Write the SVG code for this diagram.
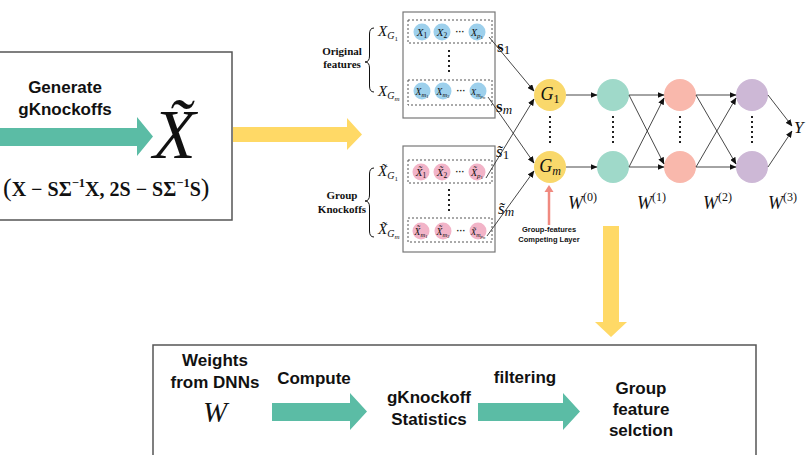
<svg xmlns="http://www.w3.org/2000/svg" width="808" height="455" viewBox="0 0 808 455">
<style>
.bs{font-family:"Liberation Sans",Arial,sans-serif;font-weight:bold;fill:#111}
.se{font-family:"Liberation Serif","Times New Roman",serif;fill:#111}
.it{font-family:"Liberation Serif","Times New Roman",serif;font-style:italic;fill:#111}
.bse{font-family:"Liberation Serif","Times New Roman",serif;font-weight:bold;fill:#111}
.frame{fill:#fff;stroke:#555;stroke-width:1.5}
.gbox{fill:#fff;stroke:#777;stroke-width:1.2}
.dash{fill:none;stroke:#555;stroke-width:1;stroke-dasharray:2 2}
.vdots{stroke:#222;stroke-width:2;stroke-dasharray:2 3}
.blue{fill:#9dd0ec}
.pink{fill:#f2b4c8}
.edge{stroke:#333;stroke-width:0.9;fill:none;marker-end:url(#ah)}
.brace{fill:none;stroke:#111;stroke-width:1}
</style>
<defs>
<marker id="ah" markerWidth="7" markerHeight="6" refX="6.5" refY="3" orient="auto" markerUnits="userSpaceOnUse">
<path d="M0,0 L7,3 L0,6 Z" fill="#111"/>
</marker>
</defs>

<!-- Left box: generate knockoffs -->
<g id="gen-box">
<rect x="-5" y="52" width="237" height="168" class="frame"/>
<text x="65" y="93" class="bs" font-size="17" text-anchor="middle">Generate</text>
<text x="65" y="115" class="bs" font-size="17" text-anchor="middle">gKnockoffs</text>
<path d="M-2,128 L137,128 L137,117 L153,136.5 L137,156 L137,146 L-2,146 Z" fill="#5bbca5"/>
<text x="153" y="158" class="it" font-size="70">X̃</text>
<text x="3" y="196" class="bse" font-size="20"><tspan font-size="26" font-weight="normal">(</tspan>X − SΣ<tspan font-size="12.5" dy="-9">−1</tspan><tspan dy="9">X, 2S − SΣ</tspan><tspan font-size="12.5" dy="-9">−1</tspan><tspan dy="9">S</tspan><tspan font-size="26" font-weight="normal">)</tspan></text>
</g>

<!-- yellow arrows -->
<g id="yellow-arrows">
<path d="M233,127 L347,127 L347,118 L362,134.5 L347,150 L347,142 L233,142 Z" fill="#ffd966"/>
<path d="M603,226 L619,226 L619,322 L627,322 L611,337 L595,322 L603,322 Z" fill="#ffd966"/>
</g>

<!-- Original features -->
<g id="original-features">
<rect x="403" y="12" width="92" height="106" class="gbox"/>
<rect x="408" y="20" width="84" height="23" class="dash"/>
<rect x="408" y="80" width="84" height="25" class="dash"/>
<circle cx="422" cy="32" r="8.5" class="blue"/>
<circle cx="442" cy="32" r="8.5" class="blue"/>
<circle cx="477" cy="32" r="8.5" class="blue"/>
<circle cx="422" cy="91" r="8.5" class="blue"/>
<circle cx="443" cy="91" r="8.5" class="blue"/>
<circle cx="478" cy="91" r="8.5" class="blue"/>
<text x="422" y="35.5" class="it" font-size="11" text-anchor="middle">X<tspan font-size="7.5" font-style="normal" dy="2">1</tspan></text>
<text x="442" y="35.5" class="it" font-size="11" text-anchor="middle">X<tspan font-size="7.5" font-style="normal" dy="2">2</tspan></text>
<text x="460" y="35" class="bs" font-size="9" text-anchor="middle">···</text>
<text x="477" y="35.5" class="it" font-size="10" text-anchor="middle">X<tspan font-size="7" dy="2">p</tspan><tspan font-size="5" font-style="normal" dy="1">1</tspan></text>
<text x="422" y="94.5" class="it" font-size="9.5" text-anchor="middle">X<tspan font-size="6.5" dy="2">m</tspan><tspan font-size="4.5" font-style="normal" dy="1">1</tspan></text>
<text x="443" y="94.5" class="it" font-size="9.5" text-anchor="middle">X<tspan font-size="6.5" dy="2">m</tspan><tspan font-size="4.5" font-style="normal" dy="1">2</tspan></text>
<text x="461" y="94" class="bs" font-size="9" text-anchor="middle">···</text>
<text x="478" y="94.5" class="it" font-size="9" text-anchor="middle">X<tspan font-size="6" dy="2">m</tspan><tspan font-size="4.5" dy="1">p</tspan><tspan font-size="3.5" dy="1">m</tspan></text>
<line x1="449" y1="50" x2="449" y2="73" class="vdots"/>
<text x="378" y="36" class="it" font-size="15">X<tspan font-size="10" dy="3">G</tspan><tspan font-size="7" font-style="normal" dy="2">1</tspan></text>
<text x="378" y="96" class="it" font-size="15">X<tspan font-size="10" dy="3">G</tspan><tspan font-size="7" dy="2">m</tspan></text>
<path d="M374,28 Q369.5,28 369.5,34 L369.5,56 Q369.5,62 365,62 Q369.5,62 369.5,68 L369.5,86 Q369.5,92 374,92" class="brace"/>
<text x="342" y="55" class="bse" font-size="11" text-anchor="middle">Original</text>
<text x="342" y="68" class="bse" font-size="11" text-anchor="middle">features</text>
</g>

<!-- Group knockoffs -->
<g id="group-knockoffs">
<rect x="403" y="146" width="92" height="106" class="gbox"/>
<rect x="408" y="160" width="84" height="23" class="dash"/>
<rect x="408" y="218" width="84" height="24" class="dash"/>
<circle cx="421" cy="172" r="8.5" class="pink"/>
<circle cx="442" cy="172" r="8.5" class="pink"/>
<circle cx="477" cy="172" r="8.5" class="pink"/>
<circle cx="421" cy="231" r="8.5" class="pink"/>
<circle cx="443" cy="231" r="8.5" class="pink"/>
<circle cx="478" cy="231" r="8.5" class="pink"/>
<text x="421" y="175.5" class="it" font-size="11" text-anchor="middle">X̃<tspan font-size="7.5" font-style="normal" dy="2">1</tspan></text>
<text x="442" y="175.5" class="it" font-size="11" text-anchor="middle">X̃<tspan font-size="7.5" font-style="normal" dy="2">2</tspan></text>
<text x="460" y="175" class="bs" font-size="9" text-anchor="middle">···</text>
<text x="477" y="175.5" class="it" font-size="10" text-anchor="middle">X̃<tspan font-size="7" dy="2">p</tspan><tspan font-size="5" font-style="normal" dy="1">1</tspan></text>
<text x="421" y="234.5" class="it" font-size="9.5" text-anchor="middle">X̃<tspan font-size="6.5" dy="2">m</tspan><tspan font-size="4.5" font-style="normal" dy="1">1</tspan></text>
<text x="443" y="234.5" class="it" font-size="9.5" text-anchor="middle">X̃<tspan font-size="6.5" dy="2">m</tspan><tspan font-size="4.5" font-style="normal" dy="1">2</tspan></text>
<text x="461" y="234" class="bs" font-size="9" text-anchor="middle">···</text>
<text x="478" y="234.5" class="it" font-size="9" text-anchor="middle">X̃<tspan font-size="6" dy="2">m</tspan><tspan font-size="4.5" dy="1">p</tspan><tspan font-size="3.5" dy="1">m</tspan></text>
<line x1="449" y1="189" x2="449" y2="212" class="vdots"/>
<text x="378" y="176" class="it" font-size="15">X̃<tspan font-size="10" dy="3">G</tspan><tspan font-size="7" font-style="normal" dy="2">1</tspan></text>
<text x="378" y="234" class="it" font-size="15">X̃<tspan font-size="10" dy="3">G</tspan><tspan font-size="7" dy="2">m</tspan></text>
<path d="M374,168 Q369.5,168 369.5,174 L369.5,195 Q369.5,201 365,201 Q369.5,201 369.5,207 L369.5,231 Q369.5,237 374,237" class="brace"/>
<text x="342" y="199" class="bse" font-size="11" text-anchor="middle">Group</text>
<text x="342" y="213" class="bse" font-size="11" text-anchor="middle">Knockoffs</text>
</g>

<!-- network nodes -->
<g id="node-G1"><circle cx="550" cy="95" r="16" fill="#f9d86b"/><text x="550" y="100" class="it" font-size="18" text-anchor="middle">G<tspan font-size="12" font-style="normal" dy="3">1</tspan></text></g>
<g id="node-Gm"><circle cx="550" cy="167" r="16" fill="#f9d86b"/><text x="550" y="172" class="it" font-size="18" text-anchor="middle">G<tspan font-size="12" dy="3">m</tspan></text></g>
<g id="node-h1a"><circle cx="613" cy="95" r="16" fill="#9fd9c9"/></g>
<g id="node-h1b"><circle cx="613" cy="167" r="16" fill="#9fd9c9"/></g>
<g id="node-h2a"><circle cx="680" cy="95" r="16" fill="#f9b8ac"/></g>
<g id="node-h2b"><circle cx="680" cy="167" r="16" fill="#f9b8ac"/></g>
<g id="node-h3a"><circle cx="752" cy="95" r="16" fill="#cdb8d6"/></g>
<g id="node-h3b"><circle cx="752" cy="167" r="16" fill="#cdb8d6"/></g>
<g id="node-Y"><text x="794" y="133" class="it" font-size="17">Y</text></g>
<g id="column-dots">
<line x1="550" y1="116" x2="550" y2="144" class="vdots"/>
<line x1="613" y1="116" x2="613" y2="144" class="vdots"/>
<line x1="680" y1="116" x2="680" y2="144" class="vdots"/>
<line x1="752" y1="116" x2="752" y2="144" class="vdots"/>
</g>

<!-- connectors -->
<g id="connectors">
<line x1="489" y1="37" x2="534" y2="91" class="edge"/>
<line x1="486" y1="178" x2="534" y2="99" class="edge"/>
<line x1="488" y1="97" x2="534" y2="163" class="edge"/>
<line x1="487" y1="236" x2="534" y2="171" class="edge"/>
<line x1="566" y1="95" x2="597" y2="95" class="edge"/>
<line x1="566" y1="167" x2="597" y2="167" class="edge"/>
<line x1="629" y1="95" x2="664" y2="95" class="edge"/>
<line x1="629" y1="95" x2="664" y2="164" class="edge"/>
<line x1="629" y1="167" x2="664" y2="98" class="edge"/>
<line x1="629" y1="167" x2="664" y2="167" class="edge"/>
<line x1="696" y1="95" x2="736" y2="95" class="edge"/>
<line x1="696" y1="95" x2="736" y2="164" class="edge"/>
<line x1="696" y1="167" x2="736" y2="98" class="edge"/>
<line x1="696" y1="167" x2="736" y2="167" class="edge"/>
<line x1="768" y1="95" x2="792" y2="126" class="edge"/>
<line x1="768" y1="167" x2="792" y2="131" class="edge"/>
<text x="497" y="52" class="bse" font-size="17">s<tspan class="se" font-weight="normal" font-size="13" dy="2">1</tspan></text>
<text x="496" y="112" class="bse" font-size="17">s<tspan font-style="italic" font-weight="normal" font-size="13" dy="2">m</tspan></text>
<text x="496" y="157" class="it" font-size="17">s̃<tspan font-style="normal" font-size="13" dy="2">1</tspan></text>
<text x="498" y="214" class="it" font-size="17">s̃<tspan font-size="13" dy="2">m</tspan></text>
</g>

<!-- weight labels -->
<g id="weight-labels">
<text x="568" y="209" class="it" font-size="18">W<tspan font-style="normal" font-size="12" dy="-8">(0)</tspan></text>
<text x="637" y="209" class="it" font-size="18">W<tspan font-style="normal" font-size="12" dy="-8">(1)</tspan></text>
<text x="703" y="209" class="it" font-size="18">W<tspan font-style="normal" font-size="12" dy="-8">(2)</tspan></text>
<text x="768" y="209" class="it" font-size="18">W<tspan font-style="normal" font-size="12" dy="-8">(3)</tspan></text>
</g>

<!-- competing layer annotation -->
<g id="competing-layer">
<line x1="549" y1="225" x2="549" y2="191" stroke="#f08a80" stroke-width="2.5"/>
<path d="M544.5,192 L549,185 L553.5,192 Z" fill="#f08a80"/>
<text x="549" y="232" class="bs" font-size="7.5" text-anchor="middle">Group-features</text>
<text x="549" y="242" class="bs" font-size="7.5" text-anchor="middle">Competing Layer</text>
</g>

<!-- bottom box -->
<g id="selection-box">
<rect x="153" y="345" width="603" height="120" class="frame"/>
<text x="215" y="366" class="bs" font-size="17" text-anchor="middle">Weights</text>
<text x="215" y="388" class="bs" font-size="17" text-anchor="middle">from DNNs</text>
<text x="215" y="422" class="it" font-size="29" text-anchor="middle">W</text>
<text x="314" y="384" class="bs" font-size="17" text-anchor="middle">Compute</text>
<path d="M272,403 L350,403 L350,393 L367,411.5 L350,430 L350,421 L272,421 Z" fill="#5bbca5"/>
<text x="429" y="403" class="bs" font-size="17" text-anchor="middle">gKnockoff</text>
<text x="429" y="425" class="bs" font-size="17" text-anchor="middle">Statistics</text>
<text x="525" y="383" class="bs" font-size="17" text-anchor="middle">filtering</text>
<path d="M478,403 L563,403 L563,393 L580,411.5 L563,430 L563,421 L478,421 Z" fill="#5bbca5"/>
<text x="641" y="394" class="bs" font-size="17" text-anchor="middle">Group</text>
<text x="641" y="415" class="bs" font-size="17" text-anchor="middle">feature</text>
<text x="641" y="436" class="bs" font-size="17" text-anchor="middle">selction</text>
</g>
</svg>
